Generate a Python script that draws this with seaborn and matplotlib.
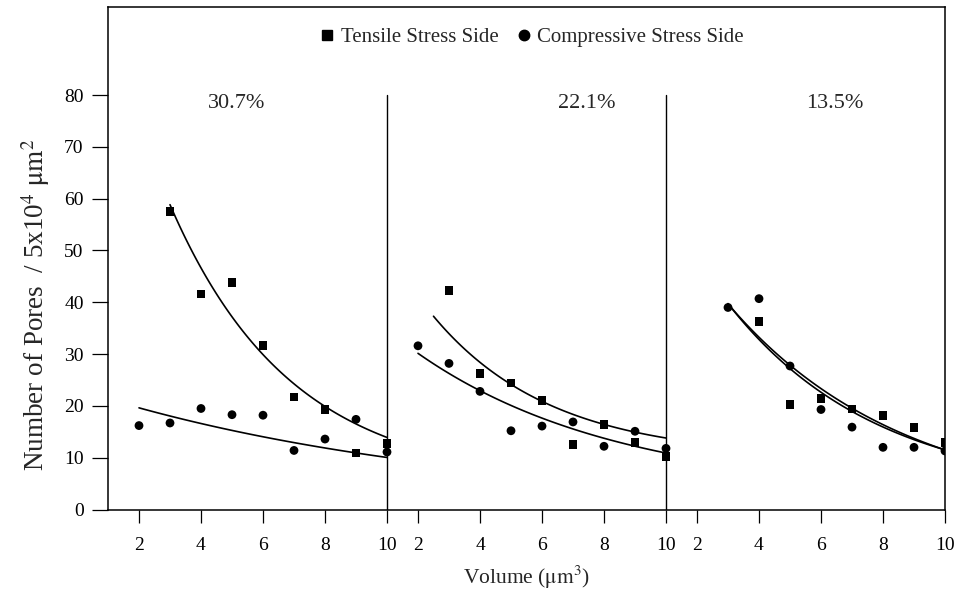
import numpy as np
import pandas as pd
import matplotlib
matplotlib.use("Agg")
import matplotlib.pyplot as plt
import seaborn as sns
from matplotlib.lines import Line2D

# ---------------- data ----------------
panels = ["30.7%", "22.1%", "13.5%"]
panel_offset = [0, 9, 18]          # each panel is a 2..10 block on a shared axis
panel_label_x = [5.16, 7.45, 6.45]  # label centres, in panel units

p1_tensile_x = [3, 4, 5, 6, 7, 8, 9, 10]
p1_tensile_y = [57.5, 41.6, 43.8, 31.7, 21.7, 19.3, 10.9, 12.8]
p1_compress_x = [2, 3, 4, 5, 6, 7, 8, 9, 10]
p1_compress_y = [16.2, 16.7, 19.5, 18.3, 18.2, 11.4, 13.6, 17.4, 11.1]

p2_tensile_x = [3, 4, 5, 6, 7, 8, 9, 10]
p2_tensile_y = [42.3, 26.2, 24.4, 21.1, 12.6, 16.4, 13.0, 10.3]
p2_compress_x = [2, 3, 4, 5, 6, 7, 8, 9, 10]
p2_compress_y = [31.6, 28.2, 22.8, 15.2, 16.1, 16.9, 12.2, 15.1, 11.8]

p3_tensile_x = [4, 5, 6, 7, 8, 9, 10]
p3_tensile_y = [36.3, 20.2, 21.5, 19.4, 18.1, 15.8, 12.9]
p3_compress_x = [3, 4, 5, 6, 7, 8, 9, 10]
p3_compress_y = [39.0, 40.7, 27.7, 19.3, 15.9, 12.0, 12.0, 11.3]

# exponential-decay trend lines y = c + a*exp(-b*x)
# (a, b, c, x_start, x_end)
p1_tensile_fit = [116.4, 0.257, 5.0, 3.0, 10.0]
p1_compress_fit = [23.2, 0.0837, 0.0, 2.0, 10.0]
p2_tensile_fit = [52.7, 0.263, 10.0, 2.5, 10.0]
p2_compress_fit = [36.96, 0.1543, 3.0, 2.0, 10.0]
p3_tensile_fit = [68.8, 0.209, 3.0, 3.0, 10.0]
p3_compress_fit = [67.5, 0.177, 0.0, 3.0, 10.0]

tick_values = [2, 4, 6, 8, 10]
y_ticks = [0, 10, 20, 30, 40, 50, 60, 70, 80]

# ---------------- build tables ----------------
series = [
    (0, "Tensile Stress Side", p1_tensile_x, p1_tensile_y, p1_tensile_fit),
    (0, "Compressive Stress Side", p1_compress_x, p1_compress_y, p1_compress_fit),
    (1, "Tensile Stress Side", p2_tensile_x, p2_tensile_y, p2_tensile_fit),
    (1, "Compressive Stress Side", p2_compress_x, p2_compress_y, p2_compress_fit),
    (2, "Tensile Stress Side", p3_tensile_x, p3_tensile_y, p3_tensile_fit),
    (2, "Compressive Stress Side", p3_compress_x, p3_compress_y, p3_compress_fit),
]
rows, curves = [], []
for k, (p, side, xs, ys, fit) in enumerate(series):
    for x, y in zip(xs, ys):
        rows.append({"gx": x + panel_offset[p], "y": y, "side": side})
    a, b, c, x0, x1 = fit
    xx = np.linspace(x0, x1, 120)
    for x in xx:
        curves.append({"gx": x + panel_offset[p], "y": c + a * np.exp(-b * x), "curve": k})
points = pd.DataFrame(rows)
curve_df = pd.DataFrame(curves)

# ---------------- style ----------------
sns.set_theme(style="white")
plt.rcParams["font.family"] = ["Liberation Serif", "DejaVu Serif"]
plt.rcParams["mathtext.fontset"] = "stix"

fig = plt.figure(figsize=(9.57, 6.0), dpi=100)
ax = fig.add_axes([108 / 957, (600 - 509.5) / 600, (945 - 108) / 957, (509.5 - 7) / 600])

sns.lineplot(data=curve_df, x="gx", y="y", units="curve", estimator=None,
             color="black", linewidth=1.2, ax=ax, legend=False, sort=False)
sns.scatterplot(data=points, x="gx", y="y", style="side",
                markers={"Tensile Stress Side": "s", "Compressive Stress Side": "o"},
                color="black", s=40, edgecolor="black", linewidth=0,
                ax=ax, legend=False, zorder=3)

# panel dividers
for p in (1, 2):
    ax.plot([10 + panel_offset[p - 1], 10 + panel_offset[p - 1]], [0, 80],
            color="black", linewidth=1.0)

# panel labels
for p, lab in enumerate(panels):
    ax.text(panel_label_x[p] + panel_offset[p], 78.3, lab, ha="center", va="center",
            fontsize=16)

ax.set_xlim(1, 28)
ax.set_ylim(0, 97)
gticks, glabels = [], []
for p in range(3):
    for t in tick_values:
        gticks.append(t + panel_offset[p])
        glabels.append(str(t))
ax.set_xticks(gticks)
ax.set_xticklabels(glabels)
ax.set_yticks(y_ticks)
ax.tick_params(axis="y", direction="out", length=11.5, width=0.9, pad=6,
               labelsize=14, colors="black", left=True)
ax.tick_params(axis="x", direction="out", length=9.5, width=0.9, pad=10,
               labelsize=14, colors="black", bottom=True)
for sp in ax.spines.values():
    sp.set_visible(True)
    sp.set_color("black")
    sp.set_linewidth(1.1)

ax.set_xlabel(r"Volume ($\mathrm{\mu m^3}$)", fontsize=15.5)
ax.set_ylabel(r"Number of Pores  / 5x10$^4$ $\mathrm{\mu m}^2$", fontsize=19.5)
ax.xaxis.label.set_va("center")
ax.yaxis.label.set_va("center")
ax.xaxis.set_label_coords(0.5, -0.136)
ax.yaxis.set_label_coords(-0.086, 0.407)

handles = [
    Line2D([], [], linestyle="none", marker="s", markersize=6.5, color="black",
           label="Tensile Stress Side"),
    Line2D([], [], linestyle="none", marker="o", markersize=7.5, color="black",
           label="Compressive Stress Side"),
]
ax.legend(handles=handles, loc="center", bbox_to_anchor=(0.506, 0.939), ncol=2,
          frameon=False, fontsize=15, handletextpad=0.25, columnspacing=0.8,
          handlelength=0.8)

fig.savefig("out.png", dpi=100, facecolor="white")
